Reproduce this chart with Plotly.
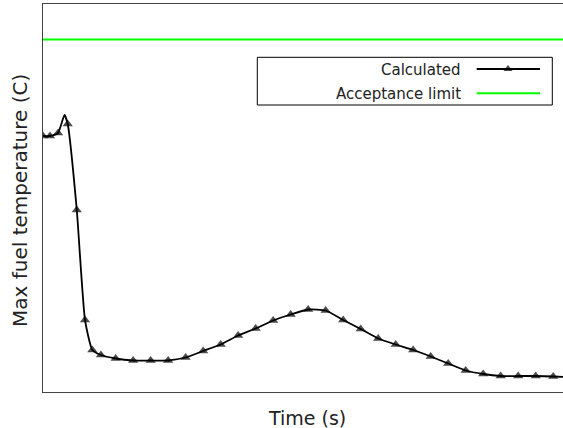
import plotly.graph_objects as go

# Data
time_s = [0.0, 0.4, 0.86, 1.23, 1.41, 1.93, 2.4, 2.82, 3.31, 4.15, 5.15, 6.15, 7.15, 8.15,
          9.15, 10.15, 11.15, 12.15, 13.15, 14.15, 15.15, 16.15, 17.15, 18.15, 19.15,
          20.15, 21.15, 22.15, 23.15, 24.15, 25.15, 26.15, 27.15, 28.15, 29.15, 29.9]
calculated = [1112, 1112, 1118, 1154, 1136, 964, 744, 684, 674, 667, 663, 663, 663, 669,
              682, 695, 713, 727, 743, 755, 765, 763, 744, 726, 707,
              695, 684, 671, 657, 643, 636, 632, 632, 632, 631, 630]
has_marker = [1, 1, 1, 0, 1, 1, 1, 1, 1, 1, 1, 1, 1, 1,
              1, 1, 1, 1, 1, 1, 1, 1, 1, 1, 1,
              1, 1, 1, 1, 1, 1, 1, 1, 1, 1, 0]
acceptance_limit = 1305
x_range = [0, 29.71]
y_range = [600, 1376]

FONT = "DejaVu Sans"
AXIS_COLOR = "#444444"
TEXT_COLOR = "#222222"

fig = go.Figure()

fig.add_trace(go.Scatter(
    x=[x_range[0], x_range[1] + 1], y=[acceptance_limit, acceptance_limit],
    mode="lines", line=dict(color="#00ff00", width=2), showlegend=False,
    hoverinfo="skip"))

fig.add_trace(go.Scatter(
    x=time_s, y=calculated, mode="lines+markers",
    line=dict(color="black", width=1.8, shape="spline", smoothing=0.5),
    marker=dict(symbol="triangle-up", color="black",
                size=[9 if m else 0 for m in has_marker],
                line=dict(width=0)),
    showlegend=False, cliponaxis=True))

# custom legend (matplotlib style: label left, sample right) on an overlay pixel axis
fig.add_trace(go.Scatter(
    x=[476.7, 508, 540], y=[69, 69, 69], xaxis="x2", yaxis="y2",
    mode="lines+markers", line=dict(color="black", width=1.8),
    marker=dict(symbol="triangle-up", color="black", size=[0, 8, 0], line=dict(width=0)),
    showlegend=False, hoverinfo="skip"))
fig.add_trace(go.Scatter(
    x=[476.7, 540], y=[93.3, 93.3], xaxis="x2", yaxis="y2",
    mode="lines", line=dict(color="#00ff00", width=2),
    showlegend=False, hoverinfo="skip"))

fig.update_layout(
    width=563, height=428,
    margin=dict(l=43, r=0, t=4, b=36),
    plot_bgcolor="white", paper_bgcolor="white",
    font=dict(family=FONT, color=TEXT_COLOR),
    xaxis=dict(range=x_range, showticklabels=False, ticks="", showgrid=False,
               zeroline=False, showline=True, linecolor=AXIS_COLOR, linewidth=1,
               mirror=True),
    yaxis=dict(range=y_range, showticklabels=False, ticks="", showgrid=False,
               zeroline=False, showline=True, linecolor=AXIS_COLOR, linewidth=1,
               mirror=False),
    xaxis2=dict(range=[43, 563], overlaying="x", visible=False, fixedrange=True),
    yaxis2=dict(range=[392, 4], overlaying="y", visible=False, fixedrange=True),
    shapes=[dict(type="rect", xref="x2", yref="y2", x0=257.3, x1=552.3, y0=57.3, y1=105,
                 line=dict(color="black", width=1), fillcolor="white", layer="below")],
    annotations=[
        dict(text="Calculated", xref="x2", yref="y2", x=463, y=70, xanchor="right",
             yanchor="middle", showarrow=False, font=dict(size=15, family=FONT, color=TEXT_COLOR)),
        dict(text="Acceptance limit", xref="x2", yref="y2", x=463, y=94, xanchor="right",
             yanchor="middle", showarrow=False, font=dict(size=15, family=FONT, color=TEXT_COLOR)),
        dict(text="Time (s)", xref="paper", yref="paper", x=0.5, y=0, xshift=4, yshift=-13,
             xanchor="center", yanchor="top", showarrow=False,
             font=dict(size=19, family=FONT, color=TEXT_COLOR)),
        dict(text="Max fuel temperature (C)", xref="paper", yref="paper", x=0, y=0.5,
             xshift=-23, yshift=-3, xanchor="center", yanchor="middle", textangle=-90,
             showarrow=False, font=dict(size=20, family=FONT, color=TEXT_COLOR)),
    ],
)

fig.write_html("out.html")
